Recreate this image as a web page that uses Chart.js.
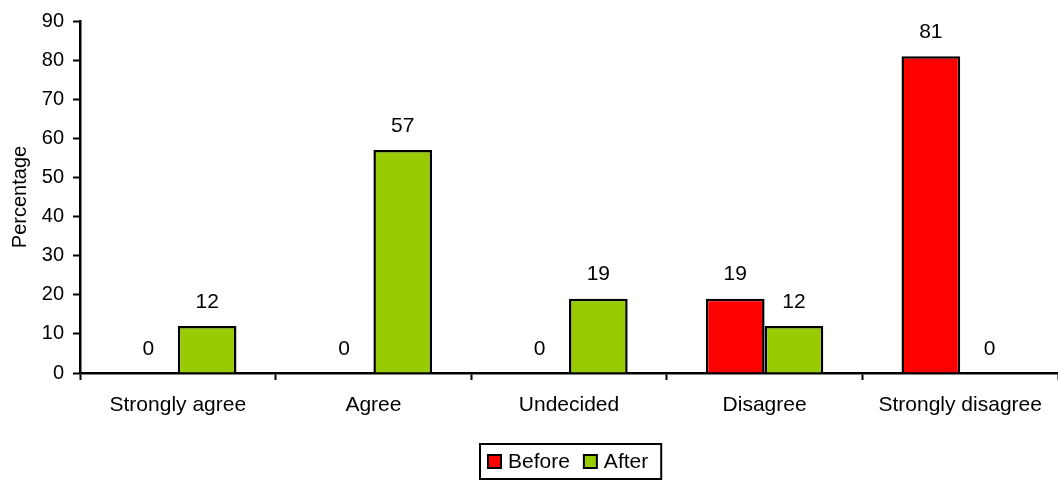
<!DOCTYPE html>
<html>
<head>
<meta charset="utf-8">
<script src="https://cdn.jsdelivr.net/npm/chart.js@4.4.1/dist/chart.umd.min.js"></script>
<style>
  html, body { margin: 0; padding: 0; background: #fff; }
  #wrap { width: 1058px; height: 482px; }
</style>
</head>
<body>
<div id="wrap"><canvas id="chart" width="1058" height="482"></canvas></div>
<script>
const categories = ['Strongly agree', 'Agree', 'Undecided', 'Disagree', 'Strongly disagree'];
const beforeValues = [0, 0, 0, 19, 81];
const afterValues = [12, 57, 19, 12, 0];
const seriesNames = ['Before', 'After'];
const seriesColors = ['#FF0000', '#99CC00'];
const yTicks = [0, 10, 20, 30, 40, 50, 60, 70, 80, 90];

const FONT = 'Liberation Sans, Arial, sans-serif';
Chart.defaults.font.family = FONT;
Chart.defaults.font.size = 20;
Chart.defaults.color = '#000';

// Value printed above every bar
const valueLabels = {
  id: 'valueLabels',
  afterDatasetsDraw(chart) {
    const ctx = chart.ctx;
    ctx.save();
    ctx.font = '21px ' + FONT;
    ctx.fillStyle = '#000';
    ctx.textAlign = 'center';
    ctx.textBaseline = 'middle';
    chart.data.datasets.forEach((ds, i) => {
      chart.getDatasetMeta(i).data.forEach((bar, j) => {
        ctx.fillText(String(ds.data[j]), bar.x, bar.y - 24);
      });
    });
    ctx.restore();
  }
};

// Framed legend centred under the plot area
const framedLegend = {
  id: 'framedLegend',
  afterDraw(chart) {
    const ctx = chart.ctx;
    const area = chart.chartArea;
    ctx.save();
    ctx.font = '21px ' + FONT;
    const box = 13, gapBox = 7, gapItem = 14, padL = 8, padR = 13;
    const items = chart.data.datasets.map(ds => ({
      label: ds.label, color: ds.backgroundColor, w: ctx.measureText(ds.label).width
    }));
    let total = padL + padR;
    items.forEach((it, i) => { total += box + gapBox + it.w + (i ? gapItem : 0); });
    const h = 35;
    const x0 = Math.round((area.left + area.right) / 2 - total / 2) + 2;
    const y0 = 444;
    ctx.lineWidth = 2;
    ctx.strokeStyle = '#000';
    ctx.strokeRect(x0, y0, total, h);
    let x = x0 + padL;
    const cy = y0 + h / 2;
    items.forEach((it, i) => {
      if (i) x += gapItem;
      ctx.fillStyle = it.color;
      ctx.fillRect(x, cy - box / 2, box, box);
      ctx.lineWidth = 2;
      ctx.strokeRect(x, cy - box / 2, box, box);
      x += box + gapBox;
      ctx.fillStyle = '#000';
      ctx.textBaseline = 'middle';
      ctx.textAlign = 'left';
      ctx.fillText(it.label, x, cy + 1);
      x += it.w;
    });
    ctx.restore();
  }
};

new Chart(document.getElementById('chart'), {
  type: 'bar',
  data: {
    labels: categories,
    datasets: [
      { label: seriesNames[0], data: beforeValues, backgroundColor: seriesColors[0] },
      { label: seriesNames[1], data: afterValues, backgroundColor: seriesColors[1] }
    ]
  },
  options: {
    responsive: false,
    animation: false,
    devicePixelRatio: 1,
    layout: { padding: { top: 21, right: 0, bottom: 59, left: 0 } },
    datasets: {
      bar: {
        categoryPercentage: 0.6,
        barPercentage: 1.0,
        borderColor: '#000',
        borderWidth: c => (c.raw === 0 ? 0 : 2.5),
        borderSkipped: 'bottom'
      }
    },
    plugins: {
      legend: { display: false },
      tooltip: { enabled: false }
    },
    scales: {
      x: {
        grid: { display: true, drawOnChartArea: false, offset: true, tickLength: 7, tickWidth: 2, tickColor: '#000' },
        border: { display: true, color: '#000', width: 2.5 },
        ticks: { font: { size: 21 }, color: '#000', padding: 13, maxRotation: 0 },
        afterFit(s) { s.height = 50; }
      },
      y: {
        min: 0,
        max: 90,
        afterBuildTicks(s) { s.ticks = yTicks.map(v => ({ value: v })); },
        grid: { display: true, drawOnChartArea: false, tickLength: 7, tickWidth: 2, tickColor: '#000' },
        border: { display: true, color: '#000', width: 2.5 },
        ticks: { font: { size: 20 }, color: '#000', padding: 9 },
        title: { display: true, text: 'Percentage', font: { size: 20 }, color: '#000', padding: { top: 8, bottom: 0 } },
        afterFit(s) { s.width = 80; }
      }
    }
  },
  plugins: [valueLabels, framedLegend]
});
</script>
</body>
</html>
